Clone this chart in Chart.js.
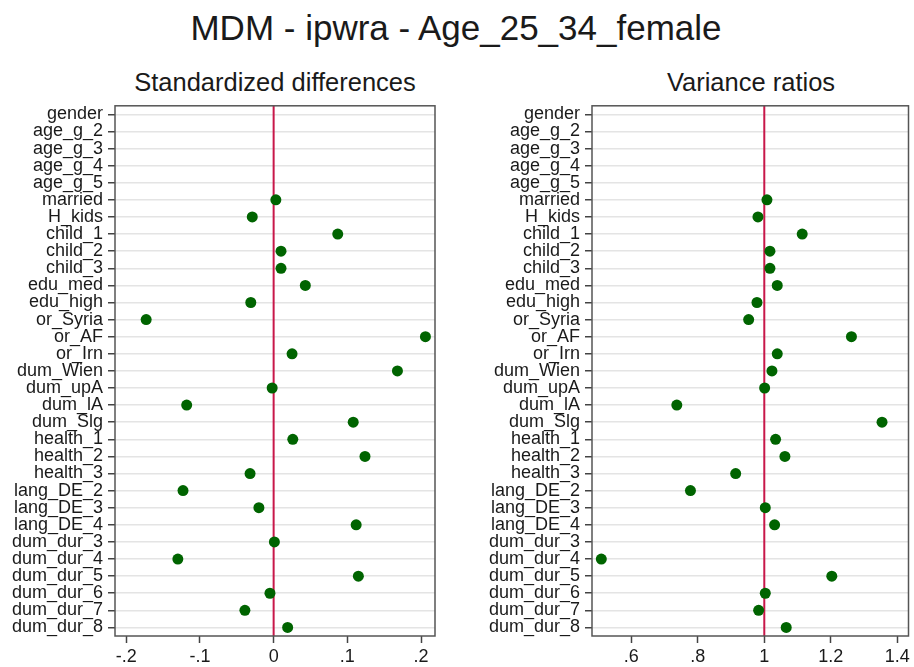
<!DOCTYPE html>
<html><head><meta charset="utf-8">
<script src="https://cdn.jsdelivr.net/npm/chart.js@4/dist/chart.umd.min.js"></script>
<style>
body{margin:0;background:#fff;width:914px;height:667px;overflow:hidden;position:relative;font-family:"Liberation Sans",Arial,sans-serif;color:#1a1a1a}
.t{position:absolute;white-space:nowrap;line-height:1;text-align:center}
canvas{position:absolute}
</style></head><body>
<div class="t" style="left:0;width:912px;top:10px;font-size:35px">MDM - ipwra - Age_25_34_female</div>
<div class="t" style="left:75px;width:400px;top:70px;font-size:25.5px">Standardized differences</div>
<div class="t" style="left:551px;width:400px;top:70px;font-size:25.5px">Variance ratios</div>
<canvas id="c1" width="457" height="577" style="left:0;top:90px"></canvas>
<canvas id="c2" width="457" height="577" style="left:457px;top:90px"></canvas>
<script>
const categories = ['gender','age_g_2','age_g_3','age_g_4','age_g_5','married','H_kids','child_1','child_2','child_3',
  'edu_med','edu_high','or_Syria','or_AF','or_Irn','dum_Wien','dum_upA','dum_lA','dum_Slg','health_1','health_2',
  'health_3','lang_DE_2','lang_DE_3','lang_DE_4','dum_dur_3','dum_dur_4','dum_dur_5','dum_dur_6','dum_dur_7','dum_dur_8'];
const stdDiff = [null,null,null,null,null,0.003,-0.029,0.087,0.010,0.010,
  0.043,-0.031,-0.173,0.206,0.025,0.168,-0.002,-0.118,0.108,0.026,0.124,
  -0.032,-0.123,-0.020,0.112,0.001,-0.130,0.115,-0.005,-0.039,0.019];
const varRatio = [null,null,null,null,null,1.008,0.981,1.114,1.017,1.017,
  1.039,0.978,0.953,1.262,1.039,1.023,1.001,0.737,1.354,1.034,1.062,
  0.914,0.778,1.003,1.031,null,0.510,1.203,1.003,0.983,1.066];
const stdTicks = [-0.2,-0.1,0,0.1,0.2];
const stdTickLabels = ['-.2','-.1','0','.1','.2'];
const varTicks = [0.6,0.8,1,1.2,1.4];
const varTickLabels = ['.6','.8','1','1.2','1.4'];
const stdRef = 0;
const varRef = 1;

const refLinePlugin = {
  id:'refLine',
  beforeDatasetsDraw(chart, args, opts){
    const x = chart.scales.x.getPixelForValue(opts.value);
    const a = chart.chartArea, ctx = chart.ctx;
    ctx.save(); ctx.strokeStyle='#c8184a'; ctx.lineWidth=2;
    ctx.beginPath(); ctx.moveTo(x,a.top); ctx.lineTo(x,a.bottom); ctx.stroke(); ctx.restore();
  }
};
const framePlugin = {
  id:'frame',
  afterDatasetsDraw(chart){
    const a = chart.chartArea, ctx = chart.ctx;
    ctx.save(); ctx.strokeStyle='#555'; ctx.lineWidth=1.5;
    ctx.strokeRect(a.left,a.top,a.right-a.left,a.bottom-a.top); ctx.restore();
  }
};
const font = {family:'"Liberation Sans", Arial, sans-serif', size:18};

function makeChart(id, values, min, max, ticks, labels, ref, yWidth, padRight){
  const pts = [];
  categories.forEach((c,i)=>{ if(values[i]!==null) pts.push({x:values[i], y:c}); });
  return new Chart(document.getElementById(id), {
    type:'scatter',
    data:{datasets:[{data:pts, backgroundColor:'#006400', borderColor:'#006400', pointRadius:5.5, pointHoverRadius:5.5, borderWidth:0}]},
    options:{
      responsive:false, animation:false, devicePixelRatio:1,
      layout:{padding:{top:11,right:padRight,bottom:0,left:0}},
      plugins:{legend:{display:false}, tooltip:{enabled:false}, refLine:{value:ref}},
      scales:{
        x:{type:'linear', min:min, max:max,
          afterBuildTicks:s=>{ s.ticks = ticks.map(v=>({value:v})); },
          afterFit:s=>{ s.height = 31; },
          grid:{drawOnChartArea:false, drawTicks:true, tickLength:7, tickColor:'#444', tickWidth:1.5},
          border:{display:false},
          ticks:{callback:(v,i)=>labels[i], font:font, color:'#1a1a1a', padding:3, maxRotation:0, autoSkip:false}},
        y:{type:'category', labels:categories, offset:true,
          afterFit:s=>{ s.width = yWidth; },
          grid:{color:'#e4e4e4', lineWidth:1.5, offset:false, tickLength:7, tickColor:'#444', tickWidth:1.5},
          border:{display:false},
          ticks:{font:font, color:'#1a1a1a', padding:5, autoSkip:false}}
      }
    },
    plugins:[refLinePlugin, framePlugin]
  });
}
makeChart('c1', stdDiff, -0.2153, 0.219, stdTicks, stdTickLabels, stdRef, 115, 22);
makeChart('c2', varRatio, 0.482, 1.4336, varTicks, varTickLabels, varRef, 135, 2);
</script>
</body></html>
